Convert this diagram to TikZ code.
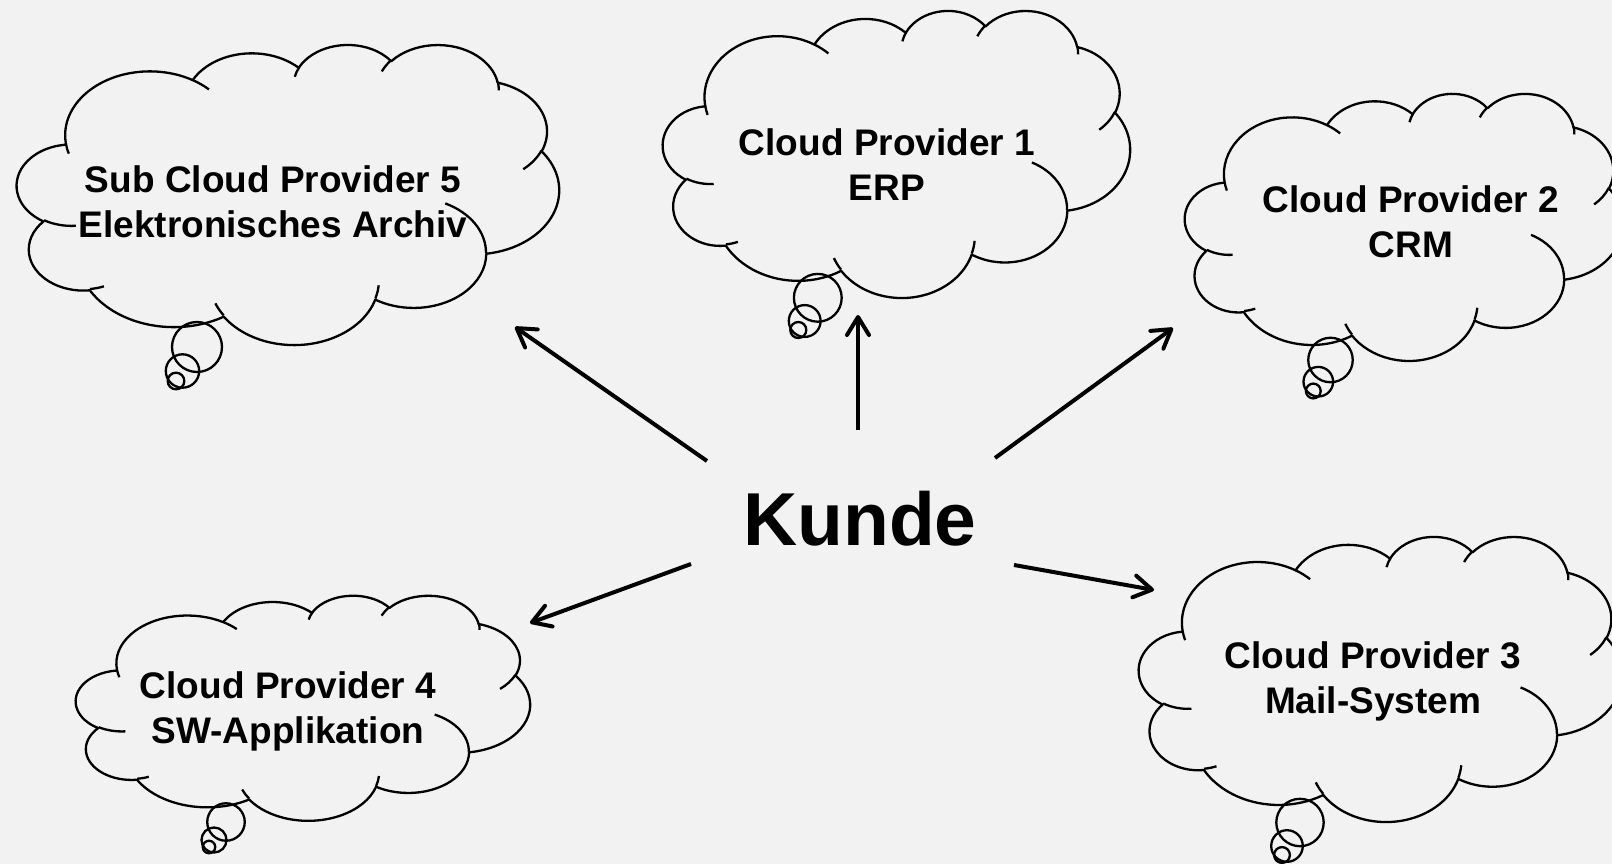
\documentclass[tikz,border=0pt]{standalone}
\usepackage{fontspec}
\setmainfont{Liberation Sans}
\usetikzlibrary{arrows.meta}
\definecolor{bgcol}{HTML}{F2F2F2}

% One elliptical arc of the cloud outline. Arguments: x radius, y radius,
% start angle and sweep, both given as visual (polar) angles; they are
% turned into the parametric angles that TikZ's arc expects.
\newcommand\cloudarc[4]{%
  \pgfextra{%
    \pgfmathsetmacro\cldA{atan2((#1)*sin(#3),(#2)*cos(#3))}%
    \pgfmathsetmacro\cldA{\cldA+360*round(((#3)-\cldA)/360)}%
    \pgfmathsetmacro\cldB{atan2((#1)*sin((#3)+(#4)),(#2)*cos((#3)+(#4)))}%
    \pgfmathsetmacro\cldB{\cldB+360*round(((#3)+(#4)-\cldB)/360)}%
    \global\let\cldS\cldA \global\let\cldE\cldB}%
  arc[start angle=\cldS, end angle=\cldE, x radius=#1, y radius=#2]}

% Cloud outline in a 100 x 100 box (y pointing down)
\newcommand\cloudoutline{%
  (9.028,33.264)
  \cloudarc{15.632}{21.273}{-190.4875}{123.7805}
  \cloudarc{12.345}{16.822}{-144.1024}{89.9452}
  \cloudarc{10.104}{13.762}{-145.8079}{99.7230}
  \cloudarc{11.243}{15.266}{-130.9861}{117.2417}
  \cloudarc{12.345}{16.836}{-78.7089}{109.0269}
  \cloudarc{15.683}{21.343}{-46.2673}{130.2690}
  \cloudarc{13.391}{18.211}{0.6250}{114.0333}
  \cloudarc{15.630}{21.331}{22.4516}{115.1726}
  \cloudarc{17.870}{24.405}{66.2426}{75.7110}
  \cloudarc{10.093}{13.699}{-274.9421}{146.7356}
  \cloudarc{10.058}{13.762}{-246.8285}{152.5189}
  -- cycle}

% The short fold strokes inside the cloud
\newcommand\cloudfolds{%
  (10.863,60.595) \cloudarc{10.058}{13.762}{86.742}{26.4295}
  (16.037,80.785) \cloudarc{10.093}{13.699}{73.6105}{11.4475}
  (38.144,90.486) \cloudarc{15.630}{21.331}{137.6242}{14.0811}
  (66.729,80.442) \cloudarc{15.630}{21.331}{6.4533}{15.9984}
  (79.002,53.134) \cloudarc{13.391}{18.211}{-70.2924}{70.9174}
  (96.755,35.542) \cloudarc{12.345}{16.836}{30.3180}{27.7515}
  (88.713,12.560) \cloudarc{11.243}{15.266}{-13.7443}{14.8589}
  (67.310,9.148)  \cloudarc{11.243}{15.266}{-149.1815}{18.1954}
  (51.252,10.926) \cloudarc{10.104}{13.762}{-163.4943}{17.6864}
  (32.407,12.019) \cloudarc{15.632}{21.273}{-66.7070}{12.3194}
  (9.553,36.549)  \cloudarc{15.632}{21.273}{157.6544}{11.8582}}

% name, left, top, width/100, height/100
\newcommand\drawcloud[5]{%
  \begin{scope}[shift={(#2,#3)}, xscale=#4, yscale=#5]
    \coordinate (#1) at (50,50);
    \draw[cloudline] \cloudoutline;
    \draw[cloudline] \cloudfolds;
  \end{scope}}

\tikzset{
  cloudline/.style={line width=2.3pt, black, line join=round},
  bubble/.style={line width=2.3pt, black},
  cloudtext/.style={anchor=base, inner sep=0pt, text=black,
    font=\bfseries\fontsize{37}{45}\selectfont},
  bigtext/.style={anchor=base, inner sep=0pt, text=black,
    font=\bfseries\fontsize{75}{90}\selectfont},
  arr/.style={line width=4pt, black,
    -{Straight Barb[length=18pt, width=22pt, round]}}
}

\begin{document}
\begin{tikzpicture}[x=1pt, y=1pt, yscale=-1]
  \useasboundingbox (0,0) rectangle (1612,864);
  \fill[bgcol] (0,0) rectangle (1612,864);
  \clip (0,0) rectangle (1612,864);

  % clouds
  \drawcloud{cl5}{17}{44}{5.42}{3.00}
  \drawcloud{cl1}{663}{10}{4.67}{2.87}
  \drawcloud{cl2}{1185}{93}{4.38}{2.67}
  \drawcloud{cl3}{1139}{536}{4.83}{2.85}
  \drawcloud{cl4}{76}{595}{4.54}{2.25}

  % thought bubbles
  \draw[bubble] (197,347) circle[radius=25];
  \draw[bubble] (182.5,371) circle[radius=16.7];
  \draw[bubble] (176,381) circle[radius=8.3];

  \draw[bubble] (817.8,297.8) circle[radius=23.9];
  \draw[bubble] (804.7,321) circle[radius=15.9];
  \draw[bubble] (798.3,330) circle[radius=8];

  \draw[bubble] (1330.5,360) circle[radius=22.25];
  \draw[bubble] (1318.3,381.7) circle[radius=14.8];
  \draw[bubble] (1313.3,391) circle[radius=7.4];

  \draw[bubble] (1300,822.5) circle[radius=23.7];
  \draw[bubble] (1287,846) circle[radius=15.8];
  \draw[bubble] (1282,855) circle[radius=7.9];

  \draw[bubble] (226,822) circle[radius=18.75];
  \draw[bubble] (214,840) circle[radius=12.5];
  \draw[bubble] (209,847) circle[radius=6.25];

  % labels
  \node[cloudtext] (t5) at (273,193)
    {\begin{tabular}[t]{@{}c@{}}Sub Cloud Provider 5\\Elektronisches Archiv\end{tabular}};
  \node[cloudtext] (t1) at (887,156)
    {\begin{tabular}[t]{@{}c@{}}Cloud Provider 1\\ERP\end{tabular}};
  \node[cloudtext] (t2) at (1411,212)
    {\begin{tabular}[t]{@{}c@{}}Cloud Provider 2\\CRM\end{tabular}};
  \node[cloudtext] (t3) at (1373,668)
    {\begin{tabular}[t]{@{}c@{}}Cloud Provider 3\\Mail-System\end{tabular}};
  \node[cloudtext] (t4) at (288,698)
    {\begin{tabular}[t]{@{}c@{}}Cloud Provider 4\\SW-Applikation\end{tabular}};

  \node[bigtext] (kunde) at (860,545) {Kunde};

  % arrow ends
  \coordinate (k5) at (707,461);  \coordinate (e5) at (515,327);
  \coordinate (k1) at (858,430);  \coordinate (e1) at (858,315);
  \coordinate (k2) at (995,458);  \coordinate (e2) at (1173,328);
  \coordinate (k4) at (691,564);  \coordinate (e4) at (530,623);
  \coordinate (k3) at (1014,565); \coordinate (e3) at (1154,590);

  \draw[arr] (k5) -- (e5);
  \draw[arr] (k1) -- (e1);
  \draw[arr] (k2) -- (e2);
  \draw[arr] (k4) -- (e4);
  \draw[arr] (k3) -- (e3);
\end{tikzpicture}
\end{document}
